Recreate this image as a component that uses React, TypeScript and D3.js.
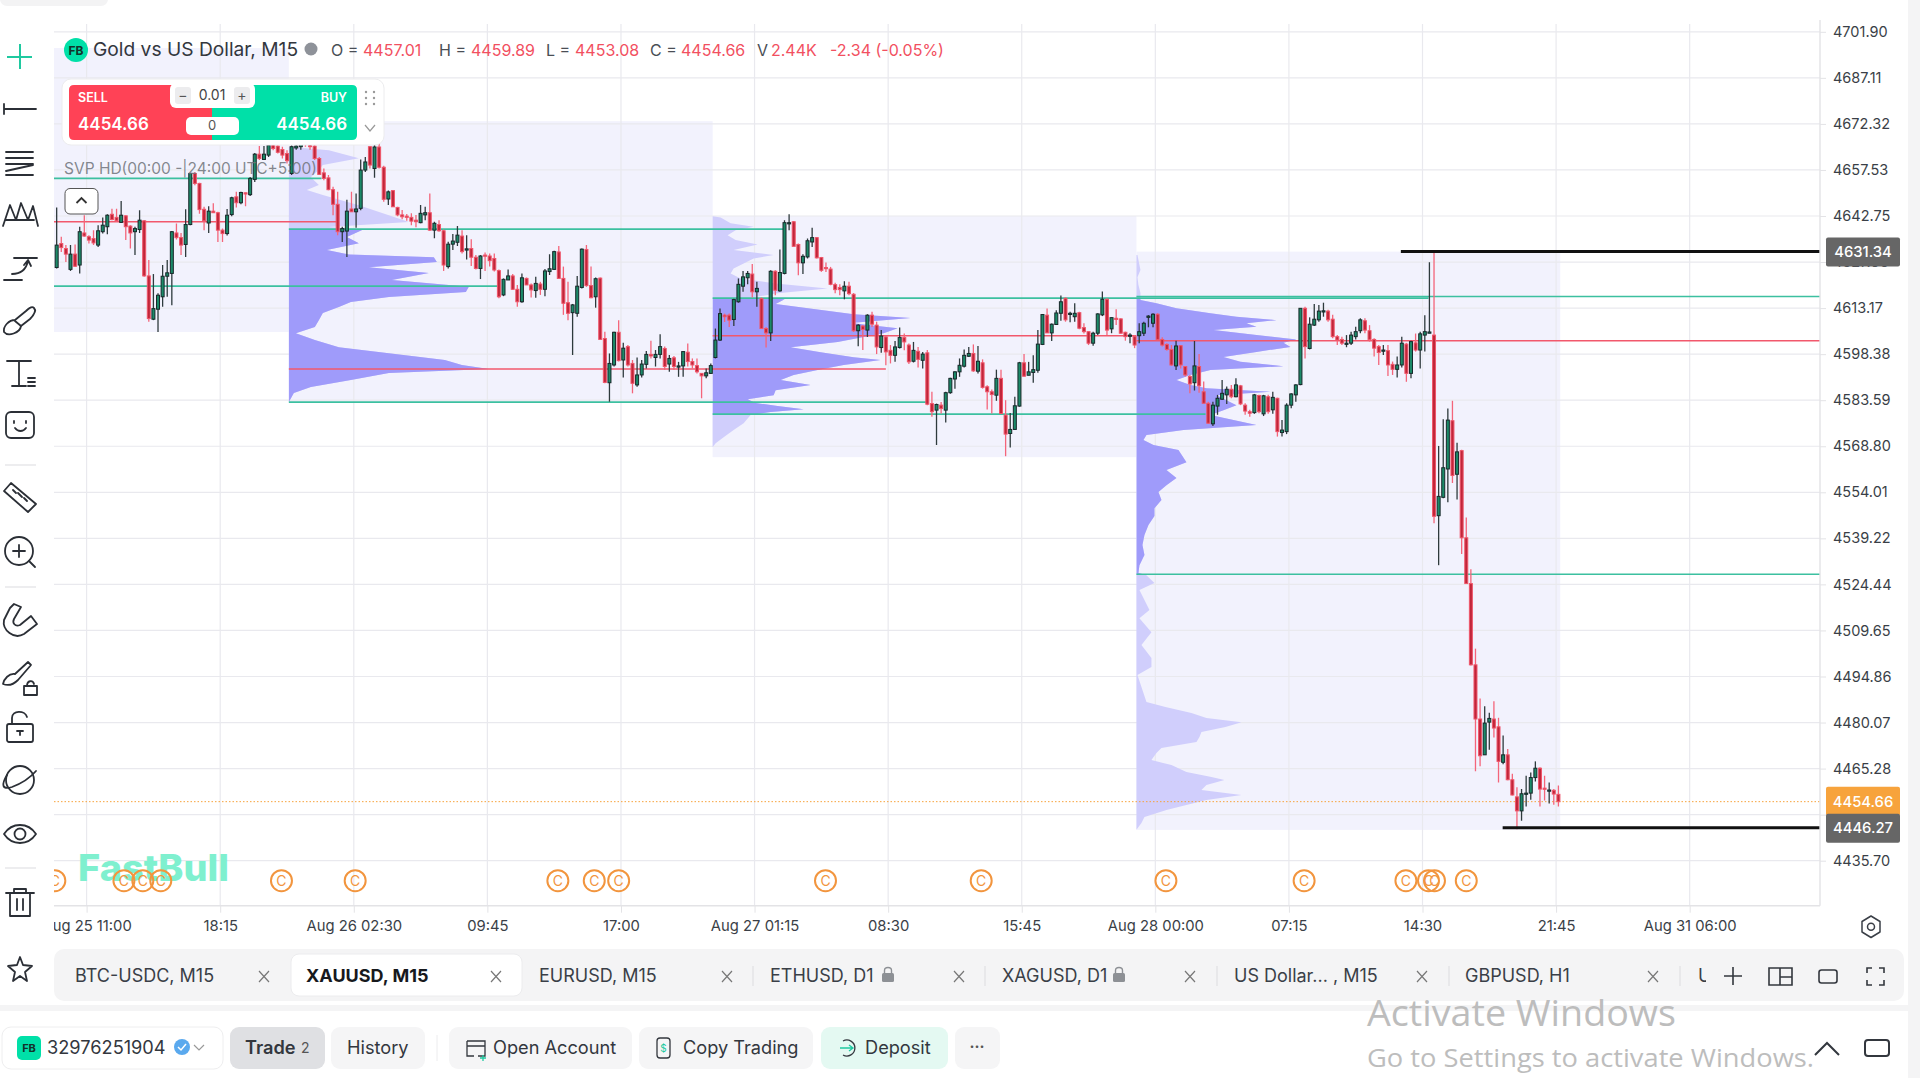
import * as React from 'react';
import {useEffect, useRef} from 'react';
import * as d3 from 'd3';

// [open, high, low, close]
const barsAug25 = [
  [4626.2,4645.5,4625.9,4633.4],[4633.9,4636.1,4631.2,4632.6],[4632.3,4633.4,4628.0,4630.5],[4625.6,4633.4,4625.1,4630.5],
  [4630.5,4633.6,4626.4,4626.6],[4627.0,4639.3,4624.3,4637.7],[4637.3,4643.0,4636.1,4636.3],[4636.1,4636.6,4633.9,4635.0],
  [4635.5,4638.2,4633.4,4634.1],[4633.4,4639.8,4632.8,4638.0],[4637.7,4642.3,4637.1,4639.8],[4639.3,4643.3,4636.9,4643.0],
  [4643.3,4645.1,4641.4,4641.6],[4642.3,4645.1,4640.9,4641.2],[4640.7,4647.6,4640.5,4643.0],[4642.8,4643.0,4635.0,4639.3],
  [4639.5,4639.8,4632.3,4637.3],[4637.7,4639.3,4630.2,4638.7],[4638.4,4644.6,4637.3,4641.4],[4641.2,4641.4,4623.2,4623.5],
  [4623.5,4628.6,4608.8,4609.8],[4609.6,4624.1,4609.3,4613.0],[4612.8,4617.9,4605.5,4617.3],[4616.8,4627.0,4613.6,4623.4],
  [4623.4,4628.6,4616.8,4624.5],[4624.3,4637.9,4614.1,4637.7],[4637.3,4640.3,4635.2,4635.8],[4635.8,4637.3,4630.2,4633.4],
  [4633.6,4644.9,4629.6,4640.0],[4640.0,4656.4,4639.8,4656.4],[4656.4,4656.9,4652.6,4653.2],[4653.2,4653.4,4643.5,4644.8],
  [4644.9,4645.7,4638.2,4641.2],[4640.5,4645.9,4637.3,4644.3],[4644.3,4646.8,4643.8,4643.8],[4643.8,4644.1,4634.4,4638.2],
  [4638.2,4638.7,4634.4,4637.1],[4637.1,4645.0,4636.5,4643.0],[4643.2,4648.9,4642.7,4648.6],[4648.9,4650.5,4645.5,4647.0],
  [4647.0,4650.5,4646.5,4650.3],[4650.2,4650.3,4645.9,4649.8],[4649.6,4655.3,4649.2,4654.8],[4654.5,4663.0,4653.7,4662.6],
  [4662.6,4665.2,4660.7,4661.2],[4660.9,4665.2,4660.7,4662.6],[4662.3,4666.0,4661.7,4665.5],[4666.0,4667.0,4663.9,4664.4],
  [4665.2,4666.0,4662.8,4663.2],[4664.1,4665.0,4661.2,4662.3],[4662.8,4663.9,4659.6,4660.5],[4656.4,4665.5,4655.9,4665.0],
];
const barsAug26a = [
  [4664.6,4668.0,4664.0,4665.2],[4665.0,4671.0,4664.0,4669.0],[4669.0,4672.0,4665.0,4667.0],[4667.0,4670.0,4664.0,4665.0],
  [4665.2,4668.0,4660.7,4661.2],[4661.2,4661.7,4655.9,4656.1],[4656.6,4658.0,4654.2,4654.8],[4655.0,4655.9,4651.0,4651.2],
  [4651.2,4652.1,4643.0,4646.5],[4646.5,4650.5,4636.6,4637.7],[4637.7,4639.3,4634.4,4638.7],[4637.9,4648.0,4629.6,4644.3],
  [4645.0,4650.5,4644.1,4644.1],[4644.1,4650.0,4639.0,4645.0],[4645.2,4660.9,4644.6,4657.5],[4657.5,4661.7,4656.9,4660.1],
  [4665.0,4665.2,4658.0,4659.1],[4658.0,4667.0,4655.0,4664.9],[4664.9,4666.0,4658.0,4658.4],[4658.4,4658.9,4647.3,4648.1],
  [4648.2,4650.9,4646.3,4650.5],[4650.9,4651.1,4645.7,4645.7],[4645.5,4645.7,4642.7,4643.1],[4643.1,4644.7,4641.7,4642.5],
  [4642.7,4643.4,4641.2,4642.3],[4642.3,4643.6,4639.8,4641.1],[4641.4,4643.1,4639.1,4640.9],[4640.6,4646.3,4640.4,4643.6],
  [4643.1,4645.7,4641.4,4643.8],[4643.8,4650.0,4638.0,4638.2],[4638.2,4640.9,4635.6,4640.4],[4640.0,4641.4,4637.7,4638.0],
  [4638.0,4638.4,4625.1,4627.0],[4626.5,4634.5,4625.9,4633.7],[4633.7,4637.0,4631.8,4634.7],[4634.3,4639.5,4633.1,4636.6],
];
const barsAug26b = [
  [4636.3,4638.2,4630.7,4631.3],[4631.8,4636.6,4628.8,4632.2],[4632.3,4635.3,4626.7,4629.5],[4629.5,4630.2,4625.6,4625.9],
  [4625.9,4630.2,4622.5,4629.9],[4630.2,4631.0,4625.1,4629.9],[4629.9,4630.7,4626.5,4628.4],[4629.1,4630.7,4624.9,4625.4],
  [4625.2,4625.6,4616.3,4616.8],[4617.4,4622.7,4617.0,4622.4],[4622.2,4625.6,4622.2,4623.5],[4623.5,4624.1,4619.0,4619.2],
  [4619.2,4620.6,4613.6,4615.2],[4615.2,4624.3,4614.9,4622.9],[4622.7,4623.0,4620.6,4620.6],[4620.6,4621.1,4616.6,4619.0],
  [4618.8,4623.2,4616.5,4621.1],[4620.9,4621.6,4617.4,4619.2],[4619.2,4625.7,4617.0,4625.1],[4624.9,4630.5,4623.8,4625.8],
  [4625.6,4631.6,4625.4,4631.3],[4631.2,4633.1,4622.7,4622.7],[4622.7,4626.5,4611.0,4614.7],[4614.9,4621.6,4609.3,4611.5],
  [4611.7,4614.5,4598.1,4614.2],[4611.5,4623.5,4610.4,4620.2],[4619.8,4632.3,4619.5,4632.1],[4632.0,4633.4,4620.0,4620.4],
  [4620.4,4626.5,4616.3,4616.5],[4616.8,4623.0,4613.3,4622.6],[4622.8,4623.0,4602.9,4603.1],[4603.4,4605.6,4589.0,4589.3],
  [4589.2,4598.6,4583.1,4595.4],[4594.9,4605.6,4594.4,4605.4],[4605.4,4609.3,4596.0,4596.3],[4596.5,4602.0,4590.9,4600.3],
  [4600.8,4601.3,4594.4,4594.9],[4595.4,4596.5,4585.8,4589.0],[4588.5,4597.3,4587.9,4591.7],[4591.7,4596.5,4590.9,4595.2],
  [4595.1,4599.4,4593.8,4598.3],[4598.3,4602.7,4597.0,4597.8],[4597.3,4599.7,4594.4,4598.3],[4598.3,4604.8,4597.0,4600.8],
  [4600.2,4600.8,4593.3,4594.4],[4595.2,4598.1,4592.7,4597.0],[4597.2,4597.8,4593.3,4594.4],[4594.3,4595.9,4591.1,4594.6],
  [4594.6,4599.2,4591.1,4599.2],[4599.0,4601.8,4594.4,4596.0],[4596.0,4597.0,4593.8,4594.9],[4594.7,4597.0,4592.2,4592.7],
  [4592.2,4592.2,4584.2,4591.4],[4591.4,4593.8,4590.6,4592.4],[4592.2,4595.4,4592.0,4594.7],
];
const barsAug27 = [
  [4597.3,4606.6,4597.0,4602.9],[4602.9,4613.0,4602.6,4611.4],[4610.9,4611.4,4608.7,4610.4],[4610.9,4611.4,4607.1,4609.3],
  [4609.5,4616.2,4607.4,4615.9],[4615.2,4622.7,4614.9,4620.8],[4620.2,4625.1,4618.4,4623.2],[4622.9,4625.1,4620.8,4624.3],
  [4624.1,4627.3,4616.6,4618.4],[4618.4,4621.6,4613.6,4619.5],[4616.2,4616.6,4606.6,4606.6],[4606.6,4607.1,4600.5,4605.2],
  [4605.2,4625.3,4602.6,4625.0],[4625.0,4625.3,4617.3,4618.9],[4618.7,4632.0,4618.4,4624.6],[4624.3,4641.4,4624.0,4640.6],
  [4640.3,4643.3,4638.2,4640.6],[4640.9,4641.1,4633.0,4633.0],[4633.6,4633.9,4623.7,4627.7],[4627.7,4630.5,4624.1,4629.8],
  [4629.6,4635.5,4629.1,4634.8],[4634.4,4639.0,4632.8,4635.8],[4635.8,4636.0,4629.1,4629.3],[4629.4,4629.6,4624.8,4625.3],
  [4626.2,4627.8,4624.8,4625.9],[4625.7,4626.4,4620.5,4620.8],[4620.7,4621.3,4617.9,4619.1],[4619.8,4620.8,4617.3,4619.1],
  [4618.7,4621.8,4616.0,4620.2],[4620.2,4621.6,4617.3,4617.8],[4617.6,4618.0,4605.5,4605.9],[4605.9,4608.0,4600.9,4607.7],
  [4607.4,4607.7,4599.7,4606.3],[4606.1,4611.2,4603.9,4610.9],[4610.9,4612.0,4607.1,4608.0],[4607.7,4608.8,4598.4,4600.7],
  [4600.5,4606.1,4598.8,4604.2],[4603.9,4604.2,4594.8,4599.1],[4599.6,4601.3,4595.4,4598.0],[4598.0,4602.6,4595.9,4600.7],
  [4600.5,4606.9,4600.2,4603.7],[4603.7,4605.0,4599.6,4602.3],[4601.3,4601.8,4595.2,4595.9],[4596.1,4602.3,4595.7,4599.6],
  [4599.3,4600.7,4594.1,4596.7],[4596.4,4599.1,4593.8,4598.4],[4598.8,4599.7,4582.0,4582.3],[4582.5,4586.3,4578.3,4579.9],
  [4580.4,4582.5,4569.2,4582.2],[4582.0,4583.0,4579.3,4580.9],[4580.4,4586.3,4576.4,4586.0],[4586.0,4590.8,4585.7,4590.6],
  [4590.4,4592.9,4587.3,4592.7],[4592.7,4597.0,4591.1,4594.8],[4594.5,4599.9,4594.1,4598.0],[4597.7,4600.7,4597.5,4598.6],
  [4598.6,4601.5,4592.7,4593.0],[4592.9,4601.0,4592.2,4596.1],[4595.6,4596.7,4587.3,4587.7],[4587.9,4588.4,4580.6,4586.3],
  [4586.3,4587.0,4579.3,4585.4],[4585.2,4593.4,4583.4,4590.6],[4590.6,4593.4,4579.3,4579.3],[4578.8,4583.6,4565.6,4572.7],
  [4572.9,4579.5,4568.4,4574.2],[4574.2,4584.7,4574.0,4581.8],[4581.7,4595.9,4581.5,4595.6],[4595.6,4598.4,4591.1,4591.3],
  [4591.6,4595.9,4591.6,4592.7],[4592.5,4598.0,4589.2,4593.4],[4593.2,4606.1,4592.4,4601.6],[4601.5,4611.2,4601.3,4611.1],
  [4610.9,4613.0,4605.2,4605.2],[4605.2,4608.2,4602.6,4608.0],[4607.9,4612.5,4607.7,4611.6],
];
const barsAug28a = [
  [4611.5,4617.2,4609.1,4615.2],[4616.3,4616.6,4608.8,4609.4],[4611.2,4612.0,4608.6,4611.5],[4610.4,4614.7,4608.8,4611.5],
  [4611.7,4612.0,4606.4,4606.7],[4606.9,4608.3,4605.0,4605.6],[4605.6,4605.6,4601.3,4601.9],[4601.9,4605.6,4601.1,4605.1],
  [4605.1,4611.5,4604.5,4611.3],[4611.0,4618.5,4610.6,4616.0],[4616.0,4616.3,4604.5,4606.1],[4606.5,4610.2,4605.1,4610.1],
  [4609.9,4612.8,4607.7,4609.7],[4609.7,4609.9,4604.9,4605.1],[4605.4,4605.6,4602.7,4604.0],[4604.2,4605.1,4601.9,4604.5],
  [4604.0,4604.5,4600.3,4601.3],[4604.3,4608.3,4601.9,4605.6],[4605.1,4608.8,4604.2,4608.3],[4610.2,4610.9,4607.0,4610.6],
  [4608.3,4611.5,4607.0,4611.2],[4611.2,4611.5,4602.9,4603.1],[4603.1,4603.8,4600.8,4601.3],[4601.5,4601.9,4599.5,4599.9],
  [4599.9,4601.3,4594.6,4594.9],[4594.6,4602.7,4593.3,4601.0],[4601.1,4601.3,4593.8,4594.9],[4594.4,4594.6,4591.2,4591.7],
  [4591.2,4591.7,4585.8,4588.8],[4589.2,4602.6,4586.7,4594.6],[4594.4,4598.4,4586.0,4588.2],[4586.3,4589.6,4582.6,4582.6],
  [4582.6,4583.1,4576.0,4576.2],[4576.0,4583.1,4575.3,4582.0],[4581.7,4585.3,4578.9,4584.2],[4583.9,4590.1,4583.7,4585.8],
  [4585.3,4588.0,4582.4,4587.1],[4587.1,4588.5,4584.2,4584.7],[4584.7,4590.6,4584.5,4588.5],[4588.2,4588.5,4582.0,4582.4],
  [4582.0,4582.6,4578.9,4580.1],[4579.9,4580.5,4578.3,4579.4],[4579.6,4585.6,4579.2,4585.3],[4585.1,4585.3,4579.4,4579.9],
  [4579.2,4585.3,4578.5,4585.0],[4584.7,4585.3,4579.2,4579.9],[4580.5,4586.3,4579.2,4584.5],[4584.2,4584.4,4571.9,4573.5],
  [4573.2,4577.2,4571.9,4574.0],[4573.5,4582.6,4572.7,4582.0],[4582.0,4585.8,4581.0,4585.6],[4585.3,4588.7,4583.1,4588.5],
];
const barsAug28b = [
  [4588.6,4613.1,4588.4,4613.1],[4613.1,4613.6,4597.0,4600.8],[4600.2,4610.2,4599.9,4608.0],[4607.7,4614.5,4607.4,4609.6],
  [4609.4,4614.2,4608.8,4612.2],[4612.0,4614.9,4610.4,4612.3],[4612.2,4612.6,4608.8,4609.4],[4609.6,4611.0,4603.5,4604.0],
  [4604.0,4604.5,4601.3,4602.9],[4603.1,4604.0,4601.3,4601.9],[4601.6,4604.5,4600.6,4601.9],[4601.9,4605.6,4601.3,4604.5],
  [4604.0,4607.2,4603.1,4605.6],[4605.9,4609.9,4605.1,4609.4],[4609.1,4609.9,4605.1,4606.1],[4605.9,4607.7,4602.4,4603.1],
  [4603.1,4603.5,4597.6,4600.3],[4600.8,4601.3,4594.9,4598.9],[4599.5,4601.3,4598.1,4599.7],[4599.5,4601.3,4591.4,4594.9],
  [4595.1,4596.0,4591.7,4593.5],[4593.5,4597.6,4590.9,4594.9],[4594.9,4604.0,4594.1,4601.9],[4601.6,4602.0,4589.5,4592.2],
  [4592.2,4602.7,4590.6,4602.4],[4602.0,4605.0,4599.2,4599.7],[4599.7,4605.6,4593.8,4604.9],[4604.5,4610.9,4599.2,4605.6],
  [4605.1,4627.9,4605.1,4605.5],[4604.5,4631.6,4544.1,4546.3],[4546.5,4568.9,4530.6,4552.7],[4552.4,4577.5,4552.1,4561.9],
  [4561.5,4580.9,4550.8,4577.2],[4577.0,4583.4,4557.0,4559.4],[4559.8,4569.9,4551.7,4567.0],[4567.4,4567.7,4534.2,4539.4],
  [4539.4,4545.9,4524.7,4524.7],[4524.7,4529.3,4498.4,4498.6],[4498.6,4503.8,4464.4,4481.2],[4481.2,4487.8,4466.0,4469.4],
  [4469.7,4485.3,4469.7,4479.9],[4480.2,4483.2,4471.3,4481.4],[4481.2,4486.9,4475.3,4478.3],[4478.7,4481.6,4460.8,4467.6],
  [4467.3,4475.9,4466.7,4469.7],[4469.7,4471.6,4461.5,4461.7],[4461.7,4463.6,4456.6,4456.8],[4456.2,4459.3,4445.8,4451.7],
  [4451.7,4458.7,4448.5,4457.2],[4457.2,4463.0,4453.1,4457.4],[4457.4,4464.0,4455.3,4462.4],[4462.4,4467.6,4461.1,4465.4],
  [4465.4,4465.7,4453.1,4458.7],[4459.0,4463.0,4455.0,4458.7],[4458.2,4460.8,4454.1,4458.4],[4458.3,4458.7,4453.7,4457.1],
  [4457.01,4459.89,4453.08,4454.66],
];
const bars = [...barsAug25, ...barsAug26a, ...barsAug26b, ...barsAug27, ...barsAug28a, ...barsAug28b];

const priceTicks = ['4701.90','4687.11','4672.32','4657.53','4642.75','4627.96','4613.17','4598.38','4583.59','4568.80','4554.01','4539.22','4524.44','4509.65','4494.86','4480.07','4465.28','4450.49','4435.70'];
const timeLabels = ['Aug 25 11:00','18:15','Aug 26 02:30','09:45','17:00','Aug 27 01:15','08:30','15:45','Aug 28 00:00','07:15','14:30','21:45','Aug 31 06:00'];
const timeBars = [6.5,35.5,64.5,93.5,122.5,151.5,180.5,209.5,238.5,267.5,296.5,325.5,354.5];
const eventBars = [-0.4,14.6,18.7,22.6,48.8,64.8,108.8,116.7,122,166.9,200.7,240.8,270.8,292.9,297.8,299.1,306];

// session: bar range and price range of each shaded box
const sessions = [
  {from: -0.6, to: 50.4, high: 4696.7, low: 4605.5},
  {from: 50.4, to: 142.4, high: 4673.2, low: 4583.0},
  {from: 142.4, to: 234.4, high: 4642.7, low: 4565.3},
  {from: 234.4, to: 326.4, high: 4631.3, low: 4445.6},
];

// volume profiles: [price, volume] from the top level down
const profileAug26 = [[4665.0,0],[4663.9,40],[4661.3,70],[4659.1,34],[4657.5,30],[4655.2,22],[4652.7,30],[4651.1,18],[4649.5,34],[4646.2,70],[4643.0,100],[4640.8,120],[4639.2,40],
  [4638.5,75],[4636.0,58],[4634.0,70],[4631.8,38],[4630.4,60],[4629.5,145],[4628.0,148],[4626.3,80],[4624.4,140],[4622.2,103],[4620.0,180],[4618.3,177],[4616.7,100],[4615.1,62],[4613.5,50],[4611.6,34],[4609.3,30],[4607.1,26],[4605.1,7],[4602.9,26],[4600.6,50],[4598.7,100],[4596.5,156],[4594.9,173],[4593.6,200],[4592.3,100],[4590.1,62],[4587.8,22],[4585.9,5],[4583.6,1],[4583.0,0]];
const profileAug27 = [[4642.7,0],[4642.3,8],[4640.4,18],[4639.3,41],[4638.2,23],[4636.6,15],[4635.0,23],[4633.6,45],[4631.8,21],[4630.2,61],[4629.1,41],[4627.5,31],[4625.9,21],[4624.3,18],[4622.7,28],[4621.1,63],[4619.5,115],[4617.9,65],[4616.6,40],
  [4616.0,72],[4614.5,63],[4611.2,141],[4610.0,198],[4608.4,138],[4606.7,185],[4605.1,171],[4603.9,151],[4602.3,125],[4600.6,78],[4599.0,108],[4597.4,141],[4596.5,168],[4594.9,131],[4593.3,105],[4591.7,81],[4590.1,68],[4588.5,98],[4586.8,63],[4585.2,61],[4583.9,35],[4582.7,43],[4581.7,65],[4580.7,91],[4579.8,58],
  [4578.8,38],[4576.2,31],[4574.0,21],[4571.7,11],[4569.8,3],[4568.5,0]];
const profileAug28 = [[4630.2,1],[4627.0,3],[4625.4,4],[4623.1,1],[4620.6,2],[4618.0,4],
  [4615.8,4],[4614.7,20],[4613.1,40],[4611.5,74],[4610.4,100],[4609.3,140],[4608.3,110],[4607.2,120],[4606.1,77],[4604.5,120],[4603.1,160],[4602.0,147],[4600.7,154],[4599.1,120],[4597.5,87],[4595.9,104],[4594.5,147],[4593.3,74],[4591.7,54],[4590.1,40],[4588.5,54],[4587.4,70],[4586.3,134],[4585.2,80],[4583.6,90],[4582.0,100],[4580.4,87],[4578.8,74],[4577.2,97],[4575.6,120],[4574.0,47],[4572.4,10],[4570.8,7],[4569.2,17],[4567.6,42],[4563.7,50],[4561.2,30],[4558.6,40],[4556.3,30],[4554.1,22],[4551.5,25],[4548.9,18],[4546.4,18],[4543.5,12],[4540.3,8],[4537.1,6],[4533.9,8],[4530.6,3],[4528.1,2],
  [4527.4,10],[4524.9,18],[4522.6,3],[4516.2,13],[4513.6,3],[4509.1,15],[4505.0,5],[4500.8,15],[4497.9,15],[4495.3,1],[4486.7,10],[4485.1,29],[4483.1,55],[4481.5,70],[4480.2,105],[4478.6,89],[4477.0,65],[4475.4,63],[4473.8,60],[4471.9,25],[4470.3,20],[4468.0,15],[4466.4,35],[4464.2,50],[4462.6,75],[4461.6,88],[4460.0,70],[4458.4,65],[4456.8,105],[4455.2,70],[4453.6,50],[4452.0,30],[4449.7,8],[4447.8,5],[4445.6,0]];
const profiles = [
  {id: 'pa', startBar: 50.4, rows: profileAug26, vah: 4638.5, val: 4583.0},
  {id: 'pb', startBar: 142.4, rows: profileAug27, vah: 4616.4, val: 4579.1},
  {id: 'pc', startBar: 234.4, rows: profileAug28, vah: 4616.5, val: 4527.7},
];

// levels: [price, first bar, last bar]
const tealLevels = [[4654.8,-1,57.5],[4620.2,-1,96.2],[4638.5,50.4,157.7],[4583.0,50.4,189.2],[4616.4,142.4,297.8],[4579.1,142.4,249.4],[4616.9,234.4,383],[4527.7,234.4,383]];
const redLevels = [[4640.9,-1,61],[4593.6,50.4,180],[4604.3,142.4,234.4],[4602.7,234.4,383]];
const blackLevels = [[4631.34,291.8,383],[4446.27,313.9,383]];
const lastPrice = 4454.66;

const ui = 'Inter, "Noto Sans", sans-serif';
const green = '#00e0a8';

const tabs = [
  ['BTC-USDC, M15',75,264],['XAUUSD, M15',306,496],['EURUSD, M15',539,727],['ETHUSD, D1',770,959],
  ['XAGUSD, D1',1002,1190],['US Dollar... , M15',1234,1422],['GBPUSD, H1',1465,1653],
];
const tabSeps = [753,985,1217,1449,1680];
const lockX = [888,1119];

const ToolIcons = () => {
  const s = {fill: 'none', stroke: '#2b2f36', strokeWidth: 1.8, strokeLinecap: 'round', strokeLinejoin: 'round'};
  return (
    <g>
      <path d="M20 44V69M7 57H32" fill="none" stroke="#1fc9a0" strokeWidth="2"/>
      <path d="M4 109H36M4 104V114" {...s}/>
      <path d="M6 152H33M6 158H33M6 164H33M6 171L33 165M6 175H33" {...s}/>
      <path d="M3 226L10 205L16 220L21 203L28 220L33 206L38 226M6 220H34" {...s}/>
      <path d="M14 258H37M4 280H22M12 274C20 274 26 270 28 261M24 265L28 260L31 266" {...s}/>
      <path d="M34 308C37 311 33 316 30 319L21 326C20 333 8 337 4 332C3 326 9 320 15 320L26 311C29 308 32 306 34 308Z" {...s}/>
      <path d="M15 321L21 326" {...s}/>
      <path d="M7 361H31M19 361V386M12 386H26M28 378H35M28 382H35M28 386H35" {...s}/>
      <rect x="6" y="412" width="28" height="26" rx="5" {...s}/>
      <path d="M14 421V423M26 421V423M15 428C18 432 23 432 26 428" {...s}/>
      <path d="M5 465H36M5 587H36M5 868H36" stroke="#e8e8ea" strokeWidth="1.4"/>
      <path d="M4 491L11 483L36 504L28 512ZM13 490L16 493M18 493L22 497M24 498L27 501" {...s}/>
      <circle cx="19" cy="551" r="14" {...s}/>
      <path d="M19 545V557M13 551H25M29 561L35 567" {...s}/>
      <path d="M10 608L4 620C2 630 14 640 24 634L37 624L31 616L20 625C15 627 12 623 14 619L21 607L14 604Z" {...s}/>
      <path d="M28 662L15 674C9 673 4 679 3 684C8 686 13 685 18 680L31 665ZM24 686H37V695H24ZM27 686C27 680 33 680 34 684" {...s}/>
      <rect x="7" y="724" width="26" height="18" rx="2" {...s}/>
      <path d="M12 724V718C12 710 25 710 27 717M20 731V735M17 731H23" {...s}/>
      <ellipse cx="20" cy="780" rx="14" ry="14" {...s}/>
      <path d="M7 775C1 785 2 790 12 787C20 784 30 778 36 771" {...s}/>
      <path d="M4 834C12 822 28 822 36 834C28 846 12 846 4 834Z" {...s}/>
      <circle cx="20" cy="834" r="5.5" {...s}/>
      <path d="M6 893H34M14 893V889H26V893M10 893V916H30V893M17 899V910M23 899V910" {...s}/>
      <path d="M20 957L23 965L32 966L25 972L27 981L20 976L13 981L15 972L8 966L17 965Z" {...s}/>
    </g>
  );
};

const TradeWidget = () => (
  <g fontFamily={ui}>
    <rect x="62" y="79" width="322" height="66" rx="9" fill="#fff" stroke="#ececee"/>
    <path d="M212 85H74Q69 85 69 90V135Q69 140 74 140H212Z" fill="#ff4256"/>
    <path d="M212 85H352Q357 85 357 90V135Q357 140 352 140H212Z" fill={green}/>
    <rect x="170" y="83" width="85" height="25" rx="6" fill="#fff"/>
    <rect x="175" y="87" width="16" height="17" rx="3" fill="#ececee"/>
    <rect x="234" y="87" width="16" height="17" rx="3" fill="#ececee"/>
    <text x="183" y="100" textAnchor="middle" fontSize="14" fill="#555">−</text>
    <text x="242" y="100" textAnchor="middle" fontSize="14" fill="#555">+</text>
    <text x="212" y="100" textAnchor="middle" fontSize="14" fill="#444">0.01</text>
    <rect x="186" y="117" width="53" height="18" rx="5" fill="#fff"/>
    <text x="212" y="130" textAnchor="middle" fontSize="13" fill="#555">0</text>
    <text x="78" y="102" fontSize="12.5" fontWeight="600" fill="#fff">SELL</text>
    <text x="347" y="102" fontSize="12.5" fontWeight="600" fill="#fff" textAnchor="end">BUY</text>
    <text x="78" y="130" fontSize="17" fontWeight="600" fill="#fff">4454.66</text>
    <text x="347" y="130" fontSize="17" fontWeight="600" fill="#fff" textAnchor="end">4454.66</text>
    {[92,98,104].map(y => [366,374].map(x => <circle key={`${x}${y}`} cx={x} cy={y} r="1.2" fill="#999"/>))}
    <path d="M365 125L370 131L375 125" fill="none" stroke="#999" strokeWidth="1.2"/>
  </g>
);

const App = () => {
  const chartRef = useRef(null);

  useEffect(() => {
    const root = d3.select(chartRef.current);
    root.selectAll('*').remove();

    const x = d3.scaleLinear().domain([0, 326]).range([56.67, 1558.4]);
    const y = d3.scaleLinear().domain([4435.70, 4701.90]).range([860.7, 31.8]);
    const vol = d3.scaleLinear().domain([0, 200]).range([0, 200]);
    const [left, right, top, bottom] = [54, 1820, 20, 905.7];

    const defs = root.append('defs');
    defs.append('clipPath').attr('id', 'pane').append('rect')
      .attr('x', left).attr('y', top).attr('width', right - left).attr('height', bottom - top);
    defs.append('clipPath').attr('id', 'timeclip').append('rect')
      .attr('x', left).attr('y', bottom).attr('width', 1870).attr('height', 40);

    const pane = root.append('g').attr('clip-path', 'url(#pane)');

    // session backgrounds
    pane.selectAll('rect.session').data(sessions).enter().append('rect')
      .attr('x', d => x(d.from)).attr('width', d => x(d.to) - x(d.from))
      .attr('y', d => y(d.high)).attr('height', d => y(d.low) - y(d.high))
      .attr('fill', '#f2f2fd');

    // grid
    pane.selectAll('line.gy').data(priceTicks).enter().append('line')
      .attr('x1', left).attr('x2', right).attr('y1', d => y(+d)).attr('y2', d => y(+d))
      .attr('stroke', '#e9e9ee').attr('stroke-width', 1.2);
    pane.selectAll('line.gx').data(timeBars).enter().append('line')
      .attr('x1', d => x(d)).attr('x2', d => x(d)).attr('y1', top + 4).attr('y2', bottom)
      .attr('stroke', '#e9e9ee').attr('stroke-width', 1.2);

    // volume profiles, value area clipped out of the same shape
    profiles.forEach(p => {
      const x0 = x(p.startBar);
      const area = d3.area().y(d => y(d[0])).x0(x0).x1(d => x0 + vol(d[1])).curve(d3.curveLinear);
      defs.append('clipPath').attr('id', p.id).append('rect')
        .attr('x', x0).attr('width', 300).attr('y', y(p.vah)).attr('height', y(p.val) - y(p.vah));
      pane.append('path').attr('d', area(p.rows)).attr('fill', '#d0cefc');
      pane.append('path').attr('d', area(p.rows)).attr('fill', '#9f9bfa').attr('clip-path', `url(#${p.id})`);
    });

    const level = (rows, color, w) => pane.append('g').selectAll('line').data(rows).enter().append('line')
      .attr('x1', d => x(d[1])).attr('x2', d => Math.min(x(d[2]), right))
      .attr('y1', d => y(d[0])).attr('y2', d => y(d[0]))
      .attr('stroke', color).attr('stroke-width', w);
    level(tealLevels, '#3cc0a0', 1.7);
    level(redLevels, '#f2586c', 1.5);

    pane.append('line').attr('x1', left).attr('x2', right)
      .attr('y1', y(lastPrice)).attr('y2', y(lastPrice))
      .attr('stroke', '#f7a33c').attr('stroke-width', 1).attr('stroke-dasharray', '1.5 2');

    // candles
    const candle = pane.append('g').selectAll('g').data(bars).enter().append('g');
    candle.append('line')
      .attr('x1', (d, i) => x(i)).attr('x2', (d, i) => x(i))
      .attr('y1', d => y(d[1])).attr('y2', d => y(d[2]))
      .attr('stroke', d => d[3] >= d[0] ? '#2e3a3c' : '#f4657a').attr('stroke-width', 1.3);
    candle.append('rect')
      .attr('x', (d, i) => x(i) - 1.5).attr('width', 3)
      .attr('y', d => y(Math.max(d[0], d[3])))
      .attr('height', d => Math.max(1.2, Math.abs(y(d[0]) - y(d[3]))))
      .attr('fill', d => d[3] >= d[0] ? '#1b8a68' : '#c0263a')
      .attr('stroke', d => d[3] >= d[0] ? '#18282a' : '#f0566a').attr('stroke-width', 1);

    level(blackLevels, '#111', 3);

    // frame and axes
    root.append('line').attr('x1', right).attr('x2', right).attr('y1', top).attr('y2', bottom)
      .attr('stroke', '#e3e3e6').attr('stroke-width', 1.4);
    root.append('line').attr('x1', left).attr('x2', right).attr('y1', bottom).attr('y2', bottom)
      .attr('stroke', '#e3e3e6').attr('stroke-width', 1.4);

    const yAxis = d3.axisRight(y).tickValues(priceTicks.map(Number)).tickSize(6).tickPadding(7)
      .tickFormat((d, i) => priceTicks[i]);
    const yg = root.append('g').attr('transform', `translate(${right},0)`).call(yAxis);
    yg.select('.domain').remove();
    yg.selectAll('line').attr('stroke', '#e3e3e6');
    yg.selectAll('text').attr('font-family', ui).attr('font-size', 14.5).attr('fill', '#3a3f47');

    const xAxis = d3.axisBottom(x).tickValues(timeBars).tickSize(7).tickPadding(8)
      .tickFormat((d, i) => timeLabels[i]);
    const xg = root.append('g').attr('clip-path', 'url(#timeclip)')
      .append('g').attr('transform', `translate(0,${bottom})`).call(xAxis);
    xg.select('.domain').remove();
    xg.selectAll('line').attr('stroke', '#e3e3e6');
    xg.selectAll('text').attr('font-family', ui).attr('font-size', 14.8).attr('fill', '#3a3f47');

    // price tags
    const tags = [[4631.34,'#666'],[lastPrice,'#f7a33c'],[4446.27,'#666']];
    const tag = root.append('g').selectAll('g').data(tags).enter().append('g')
      .attr('transform', d => `translate(1826,${y(d[0])})`);
    tag.append('rect').attr('y', d => d[0] === lastPrice ? -15 : -14).attr('width', 74).attr('height', 29).attr('rx', 2).attr('fill', d => d[1]);
    tag.append('text').attr('x', 37).attr('y', 5.5).attr('text-anchor', 'middle')
      .attr('font-family', ui).attr('font-size', 14.8).attr('font-weight', 500).attr('fill', '#fff')
      .text(d => d[0].toFixed(2));

    // watermark and event marks
    const ev = root.append('g');
    ev.append('text').attr('x', 78).attr('y', 881).attr('font-family', ui).attr('font-weight', 800)
      .attr('font-size', 37).attr('fill', '#7ff0cf').attr('textLength', 151).attr('lengthAdjust', 'spacingAndGlyphs').text('FastBull');
    const mark = ev.append('g').attr('clip-path', 'url(#pane)').selectAll('g').data(eventBars).enter().append('g')
      .attr('transform', d => `translate(${x(d)},880.7)`);
    mark.append('circle').attr('r', 10.5).attr('fill', 'none').attr('stroke', '#f2953e').attr('stroke-width', 2);
    mark.append('text').attr('y', 5).attr('text-anchor', 'middle').attr('font-family', ui)
      .attr('font-size', 14).attr('fill', '#f2953e').text('C');
  }, []);

  return (
    <svg width="1920" height="1078" viewBox="0 0 1920 1078"
      style={{position: 'fixed', left: 0, top: 0, display: 'block', background: '#fff'}}>
      <rect x="0" y="-8" width="108" height="14" rx="7" fill="#f3f3f4"/>
      <rect x="1908" y="0" width="12" height="1078" fill="#f4f4f5"/>
      <g ref={chartRef}/>

      <g fontFamily={ui}>
        <circle cx="76" cy="50" r="12" fill={green}/>
        <text x="76" y="55" textAnchor="middle" fontSize="12" fontWeight="700" fill="#12332b">FB</text>
        <text x="93" y="56" fontSize="19.2" fill="#33373e">Gold vs US Dollar, M15</text>
        <circle cx="311" cy="49" r="6.5" fill="#8e9299"/>
        <g fontSize="16">
          <text x="331" y="56" fill="#4a4e55">O =</text>
          <text x="363" y="56" fill="#f2505f">4457.01</text>
          <text x="439" y="56" fill="#4a4e55">H =</text>
          <text x="471" y="56" fill="#f2505f">4459.89</text>
          <text x="546" y="56" fill="#4a4e55">L =</text>
          <text x="575" y="56" fill="#f2505f">4453.08</text>
          <text x="650" y="56" fill="#4a4e55">C =</text>
          <text x="681" y="56" fill="#f2505f">4454.66</text>
          <text x="757" y="56" fill="#4a4e55">V</text>
          <text x="771" y="56" fill="#f2505f">2.44K</text>
          <text x="830" y="56" fill="#f2505f">-2.34 (-0.05%)</text>
        </g>
        <text x="64" y="174" fontSize="15.5" fill="#6f737a" fillOpacity="0.85">SVP HD(00:00 -|24:00 UTC+5:00)</text>
        <rect x="65" y="188.5" width="33" height="25.5" rx="5" fill="#fff" stroke="#555"/>
        <path d="M76.5 203L81.5 198L86.5 203" fill="none" stroke="#333" strokeWidth="1.8"/>
      </g>
      <TradeWidget/>
      <ToolIcons/>

      <g fill="none" stroke="#3a3f47" strokeWidth="1.5">
        <path d="M1871 916L1880 921.5V932L1871 937.500L1862 932V921.5Z" strokeLinejoin="round"/>
        <circle cx="1871" cy="926.7" r="3.500"/>
      </g>

      {/* tab strip */}
      <g fontFamily={ui} fontSize="18" fill="#3a3f47">
        <rect x="54" y="949" width="1850" height="52" rx="10" fill="#f4f4f5"/>
        <rect x="291" y="954" width="231" height="42" rx="8" fill="#fff" stroke="#ececee"/>
        {tabs.map((t, i) => (
          <g key={t[0]}>
            <text x={t[1]} y="982" fontWeight={i === 1 ? 700 : 400} fill={i === 1 ? '#17191d' : '#3a3f47'}>{t[0]}</text>
            <path d={`M${t[2] - 5} 971L${t[2] + 5} 982M${t[2] + 5} 971L${t[2] - 5} 982`} stroke="#777" strokeWidth="1.2" fill="none"/>
          </g>
        ))}
        {tabSeps.map(s => <line key={s} x1={s} x2={s} y1="966" y2="986" stroke="#dcdcdf"/>)}
        {lockX.map(lx => (
          <g key={lx}>
            <rect x={lx - 6} y="973" width="12" height="9" rx="1.5" fill="#8d9095"/>
            <path d={`M${lx - 3.500} 973V970.5C${lx - 3.500} 966.5 ${lx + 3.500} 966.5 ${lx + 3.500} 970.5V973`} fill="none" stroke="#8d9095" strokeWidth="1.4"/>
          </g>
        ))}
        <text x="1698" y="982">U</text>
        <rect x="1706" y="960" width="12" height="30" fill="#f4f4f5"/>
        <path d="M1733 967V985M1724 976H1742" stroke="#33373e" strokeWidth="1.6" fill="none"/>
        <path d="M1769 968H1792V985H1769ZM1780 968V985M1780 977H1792" stroke="#33373e" strokeWidth="1.6" fill="none"/>
        <rect x="1819" y="970" width="18" height="13" rx="2.5" fill="none" stroke="#33373e" strokeWidth="1.6"/>
        <path d="M1867 973V968H1872M1879 968H1884V973M1884 980V985H1879M1872 985H1867V980" stroke="#33373e" strokeWidth="1.6" fill="none"/>
      </g>

      {/* account bar */}
      <rect x="0" y="1005" width="1908" height="6" fill="#f4f4f5"/>
      <g fontFamily={ui} fontSize="18.200" fill="#33373e">
        <rect x="2" y="1027" width="221" height="42" rx="9" fill="#fff" stroke="#eeeeef"/>
        <rect x="17" y="1036" width="24" height="24" rx="5" fill={green}/>
        <text x="29" y="1052" textAnchor="middle" fontSize="11" fontWeight="700" fill="#12332b">FB</text>
        <text x="47" y="1054">32976251904</text>
        <circle cx="182" cy="1047" r="8" fill="#5aa9ee"/>
        <path d="M178 1047L181 1050L186 1044" fill="none" stroke="#fff" strokeWidth="1.5"/>
        <path d="M194 1045L199 1050L204 1045" fill="none" stroke="#999" strokeWidth="1.2"/>
        <rect x="230" y="1027" width="95" height="42" rx="9" fill="#dfe0e3"/>
        <text x="245" y="1054" fontWeight="600">Trade</text>
        <text x="301" y="1053" fontSize="14" fill="#555">2</text>
        <rect x="331" y="1027" width="94" height="42" rx="9" fill="#f5f5f6"/>
        <text x="347" y="1054">History</text>
        <line x1="437" x2="437" y1="1035" y2="1061" stroke="#ececee"/>
        <rect x="449" y="1027" width="183" height="42" rx="9" fill="#f5f5f6"/>
        <path d="M467 1041H485V1056H478M467 1041V1056H474M467 1046H485" fill="none" stroke="#33373e" strokeWidth="1.3"/>
        <path d="M480 1058H486M483 1055V1061" fill="none" stroke="#1fc9a0" strokeWidth="1.3"/>
        <text x="493" y="1054">Open Account</text>
        <rect x="639" y="1027" width="174" height="42" rx="9" fill="#f5f5f6"/>
        <rect x="657" y="1038" width="13" height="20" rx="3" fill="none" stroke="#33373e" strokeWidth="1.3"/>
        <text x="663.5" y="1052" textAnchor="middle" fontSize="10" fill="#1fc9a0">$</text>
        <text x="683" y="1054">Copy Trading</text>
        <rect x="821" y="1027" width="127" height="42" rx="9" fill="#e4f9f2"/>
        <path d="M843 1041A8 8 0 1 1 843 1055" fill="none" stroke="#33373e" strokeWidth="1.3"/>
        <path d="M840 1048H852M849 1045L853 1048L849 1051" fill="none" stroke="#1fc9a0" strokeWidth="1.3"/>
        <text x="865" y="1054">Deposit</text>
        <rect x="955" y="1027" width="45" height="42" rx="9" fill="#f5f5f6"/>
        <text x="977" y="1052" textAnchor="middle" fontWeight="700" fontSize="15" fill="#555">···</text>
      </g>

      <g fontFamily={'"Open Sans", sans-serif'} fill="#bdbdbd">
        <text x="1367" y="1026" fontSize="37" textLength="309" lengthAdjust="spacingAndGlyphs">Activate Windows</text>
        <text x="1367" y="1067" fontSize="26" textLength="447" lengthAdjust="spacingAndGlyphs">Go to Settings to activate Windows.</text>
      </g>
      <path d="M1815 1055L1827 1043L1839 1055" fill="none" stroke="#33373e" strokeWidth="2"/>
      <rect x="1865" y="1040" width="24" height="16" rx="3" fill="none" stroke="#33373e" strokeWidth="2"/>
    </svg>
  );
};

export default App;
